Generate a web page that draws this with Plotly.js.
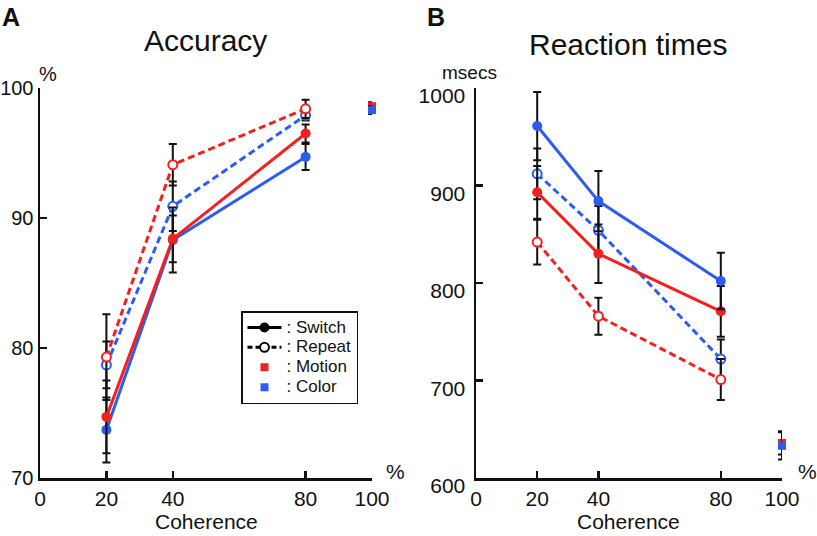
<!DOCTYPE html>
<html>
<head>
<meta charset="utf-8">
<script src="https://cdn.plot.ly/plotly-3.0.1.min.js"></script>
<style>
  html, body { margin: 0; padding: 0; background: #fff; }
  #chart { width: 817px; height: 536px; }
</style>
</head>
<body>
<div id="chart"></div>
<script>
// Task switching: accuracy and reaction times vs motion coherence.
const RED = '#f42020', BLUE = '#2c5cf0';
const FONT = 'Liberation Sans, Arial, sans-serif';

const coherence = [20, 40, 80];
const singleX = [100];

// --- accuracy (%) ---
const accMotionSwitch = [74.7, 88.4, 96.5], accMotionSwitchErr = [2.8, 1.8, 0.7];
const accColorSwitch = [73.7, 88.3, 94.7], accColorSwitchErr = [2.5, 2.5, 1.0];
const accMotionRepeat = [79.3, 94.1, 98.4], accMotionRepeatErr = [3.3, 1.6, 0.7];
const accColorRepeat = [78.7, 90.9, 97.9], accColorRepeatErr = [1.8, 1.9, 0.4];
const accMotionSingle = [98.6], accMotionSingleErr = [0.3];
const accColorSingle = [98.3], accColorSingleErr = [0.3];

// --- reaction times (msecs) ---
const rtMotionSwitch = [893, 830, 771], rtMotionSwitchErr = [27, 30, 26];
const rtColorSwitch = [961, 884, 802], rtColorSwitchErr = [35, 31, 29];
const rtMotionRepeat = [842, 766, 701], rtMotionRepeatErr = [23, 19, 21];
const rtColorRepeat = [912, 854, 722], rtColorRepeatErr = [26, 25, 20];
const rtMotionSingle = [636], rtMotionSingleErr = [12];
const rtColorSingle = [633], rtColorSingleErr = [14];

const xTicks = [0, 20, 40, 80, 100];
const accTicks = [70, 80, 90, 100];
const rtTicks = [600, 700, 800, 900, 1000];
const legendNames = [': Switch', ': Repeat', ': Motion', ': Color'];

const W = 817, H = 536;
const px = x => x / W, py = y => 1 - y / H;

function err(arr) {
  return { type: 'data', array: arr, visible: true, color: '#111', thickness: 2, width: 4 };
}
function series(xa, ya, x, y, e, color, repeat) {
  return {
    x, y, xaxis: xa, yaxis: ya, type: 'scatter', mode: 'lines+markers', showlegend: false,
    cliponaxis: false, error_y: err(e),
    line: { color, width: 3, dash: repeat ? '7px,4px' : 'solid' },
    marker: repeat
      ? { symbol: 'circle', size: 9, color: '#fff', line: { color, width: 2 } }
      : { symbol: 'circle', size: 10, color, line: { width: 0 } },
  };
}
function single(xa, ya, y, e, color) {
  return {
    x: singleX, y, xaxis: xa, yaxis: ya, type: 'scatter', mode: 'markers', showlegend: false,
    cliponaxis: false, error_y: err(e),
    marker: { symbol: 'square', size: 8, color, line: { width: 0 } },
  };
}
// legend text is drawn larger than the legend font so rows stay tight
const big = s => '<span style="font-size:17px">' + s + '</span>';

const traces = [
  series('x', 'y', coherence, accColorRepeat, accColorRepeatErr, BLUE, true),
  series('x', 'y', coherence, accMotionRepeat, accMotionRepeatErr, RED, true),
  series('x', 'y', coherence, accColorSwitch, accColorSwitchErr, BLUE, false),
  series('x', 'y', coherence, accMotionSwitch, accMotionSwitchErr, RED, false),
  single('x', 'y', accMotionSingle, accMotionSingleErr, RED),
  single('x', 'y', accColorSingle, accColorSingleErr, BLUE),

  series('x2', 'y2', coherence, rtColorRepeat, rtColorRepeatErr, BLUE, true),
  series('x2', 'y2', coherence, rtMotionRepeat, rtMotionRepeatErr, RED, true),
  series('x2', 'y2', coherence, rtMotionSwitch, rtMotionSwitchErr, RED, false),
  series('x2', 'y2', coherence, rtColorSwitch, rtColorSwitchErr, BLUE, false),
  single('x2', 'y2', rtMotionSingle, rtMotionSingleErr, RED),
  single('x2', 'y2', rtColorSingle, rtColorSingleErr, BLUE),

  // legend-only entries
  { x: [null], y: [null], type: 'scatter', mode: 'lines+markers', name: big(legendNames[0]),
    line: { color: '#000', width: 3 }, marker: { color: '#000', size: 10 } },
  { x: [null], y: [null], type: 'scatter', mode: 'lines+markers', name: big(legendNames[1]),
    line: { color: '#000', width: 3, dash: '5px,3px' },
    marker: { color: '#fff', size: 9, line: { color: '#000', width: 2 } } },
  { x: [null], y: [null], type: 'scatter', mode: 'markers', name: big(legendNames[2]),
    marker: { color: RED, size: 8, symbol: 'square' } },
  { x: [null], y: [null], type: 'scatter', mode: 'markers', name: big(legendNames[3]),
    marker: { color: BLUE, size: 8, symbol: 'square' } },
];

const axisBase = {
  showline: true, linecolor: '#111', linewidth: 2.5, mirror: false,
  ticks: 'inside', ticklen: 7, tickwidth: 2.5, tickcolor: '#111',
  showgrid: false, zeroline: false, fixedrange: true,
  tickfont: { family: FONT, size: 21, color: '#111' },
};

const text = (t, x, y, size, extra) => Object.assign({
  text: t, x: px(x), y: py(y), xref: 'paper', yref: 'paper', showarrow: false,
  xanchor: 'center', yanchor: 'middle', font: { family: FONT, size, color: '#111' },
}, extra || {});

const layout = {
  width: W, height: H,
  margin: { l: 0, r: 0, t: 0, b: 0 },
  paper_bgcolor: '#fff', plot_bgcolor: '#fff',
  font: { family: FONT, color: '#111' },
  xaxis: Object.assign({}, axisBase, { domain: [px(40), px(372)], range: [0, 100], tickvals: xTicks, anchor: 'y' }),
  yaxis: Object.assign({}, axisBase, { domain: [py(478), py(88)], range: [70, 100], tickvals: accTicks, anchor: 'x',
    tickfont: { family: FONT, size: 20, color: '#111' } }),
  xaxis2: Object.assign({}, axisBase, { domain: [px(476), px(782)], range: [0, 100], tickvals: xTicks, anchor: 'y2' }),
  yaxis2: Object.assign({}, axisBase, { domain: [py(478), py(88)], range: [600, 1000], tickvals: rtTicks, anchor: 'x2', ticklabelstandoff: 4, ticklabelshift: 8 }),
  showlegend: true,
  legend: {
    x: px(241), y: py(311), xanchor: 'left', yanchor: 'top',
    bgcolor: '#fff', bordercolor: '#111', borderwidth: 1.5,
    font: { family: FONT, size: 13, color: '#111' }, tracegroupgap: 0, itemwidth: 34,
  },
  annotations: [
    text('<b>A</b>', 11, 17, 25),
    text('<b>B</b>', 436, 17, 25),
    text('Accuracy', 205, 40, 30),
    text('Reaction times', 628, 44, 30),
    text('Coherence', 206, 521, 21),
    text('Coherence', 628, 521, 21),
    text('%', 48, 74, 20),
    text('%', 395, 471, 21),
    text('msecs', 470, 73, 19),
    text('%', 807, 471, 21),
  ],
};

Plotly.newPlot('chart', traces, layout, { staticPlot: true, displayModeBar: false });
</script>
</body>
</html>
